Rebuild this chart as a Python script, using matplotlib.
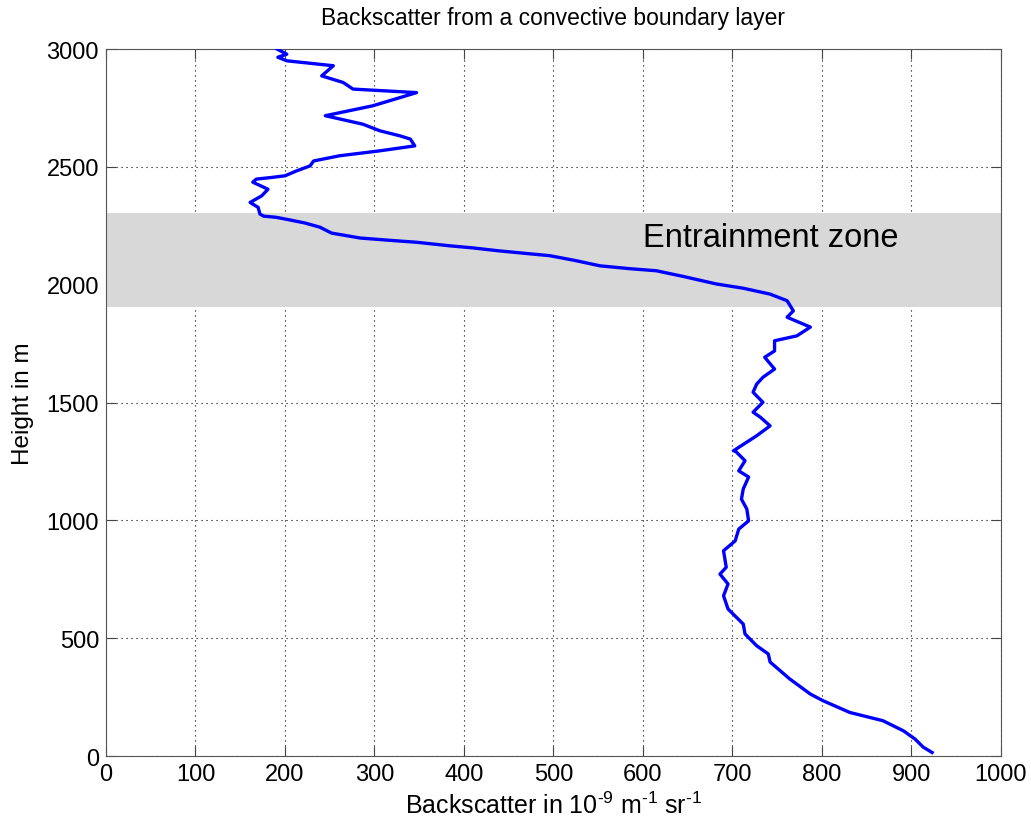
import matplotlib
matplotlib.use("Agg")
import matplotlib.pyplot as plt

plt.rcParams['font.family'] = ['Liberation Sans', 'DejaVu Sans']
plt.rcParams['mathtext.default'] = 'regular'

# profile (backscatter, height)
backscatter = [923, 913, 904, 891, 868, 831, 801, 787, 764, 742, 740, 727, 714, 712,
               695, 690, 695, 686, 693, 690, 703, 707, 718, 716, 710, 712, 718, 707,
               714, 703, 701, 716, 727, 742, 731, 723, 734, 727, 723, 727, 734, 747,
               736, 747, 747, 772, 787, 761, 768, 761, 742, 712, 682, 645, 615, 585, 552,
               525, 496, 468, 438, 410, 384, 347, 318, 284, 252, 239, 222, 205, 190, 176,
               172, 170, 161, 174, 181, 164, 168, 185, 200, 213, 228, 232, 261, 306, 345,
               340, 328, 306, 287, 245, 298, 347, 276, 265, 241, 254, 202, 192, 202, 191]
height = [15, 38, 72, 107, 150, 185, 235, 263, 327, 399, 433, 468, 518, 560,
          624, 680, 730, 772, 801, 871, 913, 963, 998, 1048, 1090, 1133, 1184, 1210,
          1253, 1295, 1295, 1332, 1359, 1401, 1438, 1459, 1501, 1528, 1544, 1578, 1607, 1642,
          1692, 1719, 1762, 1783, 1820, 1862, 1889, 1932, 1960, 1985, 2003, 2035, 2059, 2068, 2080,
          2102, 2123, 2133, 2144, 2156, 2165, 2180, 2188, 2198, 2219, 2244, 2262, 2275, 2286, 2291,
          2300, 2328, 2349, 2377, 2405, 2435, 2448, 2455, 2462, 2483, 2504, 2525, 2547, 2568, 2589,
          2618, 2632, 2653, 2681, 2717, 2759, 2815, 2830, 2858, 2886, 2929, 2950, 2965, 2978, 3000]

zone_bottom = 1905
zone_top = 2303

fig = plt.figure(figsize=(10.31, 8.28), dpi=100)
ax = fig.add_axes([0.1028, 0.0857, 0.8681, 0.8539])

ax.axhspan(zone_bottom, zone_top, color='#d8d8d8', zorder=2, lw=0)
ax.plot(backscatter, height, color='#0000ff', lw=2.4, zorder=3)
ax.text(600, 2200, 'Entrainment zone', fontsize=23.5, va='center', ha='left', zorder=4)

ax.set_xlim(0, 1000)
ax.set_ylim(0, 3000)
ax.set_xticks(range(0, 1001, 100))
ax.set_yticks(range(0, 3001, 500))
ax.grid(True, color='black', linestyle=(0, (1, 3.5)), linewidth=0.8, zorder=1)
ax.set_axisbelow(True)
ax.tick_params(direction='in', top=True, right=True, labelsize=17, length=7, pad=5,
               color='#444444')
for s in ax.spines.values():
    s.set_color('#555555')

ax.set_title('Backscatter from a convective boundary layer', fontsize=16.5, pad=18)
ax.set_xlabel('Backscatter in 10$^{\u20109}$ m$^{\u20101}$ sr$^{\u20101}$', fontsize=18, labelpad=5)
ax.set_ylabel('Height in m', fontsize=17.5, labelpad=9)

fig.savefig('out.png', dpi=100)
